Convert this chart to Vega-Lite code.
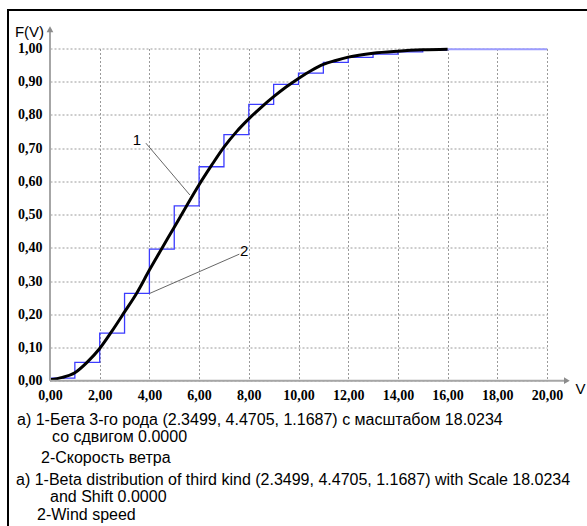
{
  "$schema": "https://vega.github.io/schema/vega-lite/v6.json",
  "width": 497,
  "height": 332.2,
  "autosize": "none",
  "padding": {"left": 50, "top": 48.5, "right": 40, "bottom": 145.3},
  "background": "white",
  "config": {
    "view": {"stroke": null},
    "locale": {"number": {"decimal": ",", "thousands": " ", "grouping": [3], "currency": ["", ""]}},
    "axis": {"labelFlush": false, "labelOverlap": false}
  },
  "datasets": {
    "one": [{}],
    "steps": [
      {"V": 0, "F": 0.008},
      {"V": 1, "F": 0.055},
      {"V": 2, "F": 0.143},
      {"V": 3, "F": 0.263},
      {"V": 4, "F": 0.396},
      {"V": 5, "F": 0.526},
      {"V": 6, "F": 0.644},
      {"V": 7, "F": 0.741},
      {"V": 8, "F": 0.832},
      {"V": 9, "F": 0.892},
      {"V": 10, "F": 0.926},
      {"V": 11, "F": 0.958},
      {"V": 12, "F": 0.973},
      {"V": 13, "F": 0.983},
      {"V": 14, "F": 0.990},
      {"V": 15, "F": 0.995},
      {"V": 16, "F": 0.995}
    ],
    "tail": [
      {"V": 16, "F": 0.998},
      {"V": 20, "F": 0.998}
    ],
    "curve": [
      {"V": 0, "F": 0.003},
      {"V": 0.5, "F": 0.010},
      {"V": 1, "F": 0.024},
      {"V": 1.5, "F": 0.056},
      {"V": 2, "F": 0.097},
      {"V": 2.5, "F": 0.150},
      {"V": 3, "F": 0.207},
      {"V": 3.5, "F": 0.265},
      {"V": 4, "F": 0.333},
      {"V": 4.5, "F": 0.398},
      {"V": 5, "F": 0.462},
      {"V": 5.5, "F": 0.527},
      {"V": 6, "F": 0.590},
      {"V": 6.5, "F": 0.648},
      {"V": 7, "F": 0.703},
      {"V": 7.5, "F": 0.749},
      {"V": 8, "F": 0.788},
      {"V": 8.5, "F": 0.823},
      {"V": 9, "F": 0.855},
      {"V": 9.5, "F": 0.884},
      {"V": 10, "F": 0.910},
      {"V": 10.5, "F": 0.933},
      {"V": 11, "F": 0.952},
      {"V": 11.5, "F": 0.964},
      {"V": 12, "F": 0.974},
      {"V": 13, "F": 0.986},
      {"V": 14, "F": 0.992},
      {"V": 15, "F": 0.996},
      {"V": 16, "F": 0.998}
    ],
    "leaders": [
      {"label": "1", "V": 3.86, "F": 0.715, "V2": 5.63, "F2": 0.559, "LV": 3.5, "LF": 0.725},
      {"label": "2", "V": 7.62, "F": 0.381, "V2": 4.02, "F2": 0.263, "LV": 7.81, "LF": 0.39}
    ]
  },
  "layer": [
    {
      "data": {"name": "steps"},
      "mark": {"type": "line", "interpolate": "step-after", "color": "#3c3cff", "strokeWidth": 1.3},
      "encoding": {
        "x": {
          "field": "V", "type": "quantitative",
          "scale": {"domain": [0, 20], "nice": false, "zero": false},
          "axis": {
            "values": [0, 2, 4, 6, 8, 10, 12, 14, 16, 18, 20],
            "tickCount": 11,
            "format": ".2f",
            "grid": true, "gridDash": [2, 2], "gridColor": "#9a9a9a", "gridWidth": 1,
            "domain": false, "ticks": false, "labelOverlap": false, "labelFlush": false,
            "labelFont": "Liberation Serif", "labelFontWeight": "bold", "labelFontSize": 14, "labelColor": "black",
            "labelPadding": 8,
            "title": "V", "titleX": 530, "titleY": 8, "titleAlign": "center", "titleBaseline": "middle",
            "titleFont": "Liberation Sans", "titleFontWeight": "normal", "titleFontSize": 15, "titleColor": "black"
          }
        },
        "y": {
          "field": "F", "type": "quantitative",
          "scale": {"domain": [0, 1], "nice": false, "zero": false},
          "axis": {
            "values": [0, 0.1, 0.2, 0.3, 0.4, 0.5, 0.6, 0.7, 0.8, 0.9, 1],
            "tickCount": 11,
            "format": ".2f",
            "grid": true, "gridDash": [2, 2], "gridColor": "#9a9a9a", "gridWidth": 1,
            "domain": false, "ticks": false, "labelOverlap": false, "labelFlush": false,
            "labelFont": "Liberation Serif", "labelFontWeight": "bold", "labelFontSize": 14, "labelColor": "black",
            "labelPadding": 8,
            "title": "F(V)", "titleAngle": 0, "titleX": -21, "titleY": -17.5, "titleAlign": "center", "titleBaseline": "middle",
            "titleFont": "Liberation Sans", "titleFontWeight": "normal", "titleFontSize": 15, "titleColor": "black"
          }
        }
      }
    },
    {
      "data": {"name": "tail"},
      "mark": {"type": "line", "color": "#9d9dff", "strokeWidth": 2},
      "encoding": {
        "x": {"field": "V", "type": "quantitative"},
        "y": {"field": "F", "type": "quantitative"}
      }
    },
    {
      "data": {"name": "curve"},
      "mark": {"type": "line", "interpolate": "monotone", "color": "black", "strokeWidth": 3},
      "encoding": {
        "x": {"field": "V", "type": "quantitative"},
        "y": {"field": "F", "type": "quantitative"}
      }
    },
    {
      "data": {"name": "one"},
      "mark": {"type": "rule", "color": "black", "strokeWidth": 2},
      "encoding": {
        "x": {"datum": -1.69, "type": "quantitative"},
        "y": {"datum": -2, "type": "quantitative"},
        "y2": {"datum": 1.116}
      }
    },
    {
      "data": {"name": "one"},
      "mark": {"type": "rule", "color": "black", "strokeWidth": 2},
      "encoding": {
        "x": {"datum": -1.73, "type": "quantitative"},
        "x2": {"datum": 40},
        "y": {"datum": 1.116, "type": "quantitative"}
      }
    },
    {
      "data": {"name": "one"},
      "mark": {"type": "rule", "color": "#a6a6a6", "strokeWidth": 2},
      "encoding": {
        "x": {"datum": 0, "type": "quantitative"},
        "x2": {"datum": 20.75},
        "y": {"datum": 0, "type": "quantitative"}
      }
    },
    {
      "data": {"name": "one"},
      "mark": {"type": "rule", "color": "#a6a6a6", "strokeWidth": 2},
      "encoding": {
        "x": {"datum": 0, "type": "quantitative"},
        "y": {"datum": 0, "type": "quantitative"},
        "y2": {"datum": 1.05}
      }
    },
    {
      "data": {"name": "one"},
      "mark": {"type": "point", "shape": "triangle-right", "filled": true, "color": "#8c8c8c", "size": 45, "opacity": 1},
      "encoding": {
        "x": {"datum": 20.8, "type": "quantitative"},
        "y": {"datum": 0, "type": "quantitative"}
      }
    },
    {
      "data": {"name": "one"},
      "mark": {"type": "point", "shape": "triangle-up", "filled": true, "color": "#8c8c8c", "size": 45, "opacity": 1},
      "encoding": {
        "x": {"datum": 0, "type": "quantitative"},
        "y": {"datum": 1.058, "type": "quantitative"}
      }
    },
    {
      "data": {"name": "leaders"},
      "mark": {"type": "rule", "color": "#555555", "strokeWidth": 0.9},
      "encoding": {
        "x": {"field": "V", "type": "quantitative"},
        "x2": {"field": "V2"},
        "y": {"field": "F", "type": "quantitative"},
        "y2": {"field": "F2"}
      }
    },
    {
      "data": {"name": "leaders"},
      "mark": {"type": "text", "font": "Liberation Sans", "fontSize": 15, "color": "black", "align": "center", "baseline": "middle"},
      "encoding": {
        "x": {"field": "LV", "type": "quantitative"},
        "y": {"field": "LF", "type": "quantitative"},
        "text": {"field": "label"}
      }
    },
    {
      "data": {"name": "one"},
      "mark": {"type": "text", "font": "Liberation Sans", "fontSize": 16, "color": "black", "align": "left", "baseline": "middle"},
      "encoding": {
        "x": {"datum": -1.328, "type": "quantitative"},
        "y": {"datum": -0.1183, "type": "quantitative"},
        "text": {"value": "а) 1-Бета 3-го рода (2.3499, 4.4705, 1.1687) с масштабом 18.0234"}
      }
    },
    {
      "data": {"name": "one"},
      "mark": {"type": "text", "font": "Liberation Sans", "fontSize": 16, "color": "black", "align": "left", "baseline": "middle"},
      "encoding": {
        "x": {"datum": 0.08, "type": "quantitative"},
        "y": {"datum": -0.1695, "type": "quantitative"},
        "text": {"value": "со сдвигом 0.0000"}
      }
    },
    {
      "data": {"name": "one"},
      "mark": {"type": "text", "font": "Liberation Sans", "fontSize": 16, "color": "black", "align": "left", "baseline": "middle"},
      "encoding": {
        "x": {"datum": -0.362, "type": "quantitative"},
        "y": {"datum": -0.2327, "type": "quantitative"},
        "text": {"value": "2-Скорость ветра"}
      }
    },
    {
      "data": {"name": "one"},
      "mark": {"type": "text", "font": "Liberation Sans", "fontSize": 16, "color": "black", "align": "left", "baseline": "middle"},
      "encoding": {
        "x": {"datum": -1.368, "type": "quantitative"},
        "y": {"datum": -0.2989, "type": "quantitative"},
        "text": {"value": "а) 1-Beta distribution of third kind (2.3499, 4.4705, 1.1687) with Scale 18.0234"}
      }
    },
    {
      "data": {"name": "one"},
      "mark": {"type": "text", "font": "Liberation Sans", "fontSize": 16, "color": "black", "align": "left", "baseline": "middle"},
      "encoding": {
        "x": {"datum": 0, "type": "quantitative"},
        "y": {"datum": -0.3501, "type": "quantitative"},
        "text": {"value": "and Shift 0.0000"}
      }
    },
    {
      "data": {"name": "one"},
      "mark": {"type": "text", "font": "Liberation Sans", "fontSize": 16, "color": "black", "align": "left", "baseline": "middle"},
      "encoding": {
        "x": {"datum": -0.523, "type": "quantitative"},
        "y": {"datum": -0.4043, "type": "quantitative"},
        "text": {"value": "2-Wind speed"}
      }
    }
  ]
}
